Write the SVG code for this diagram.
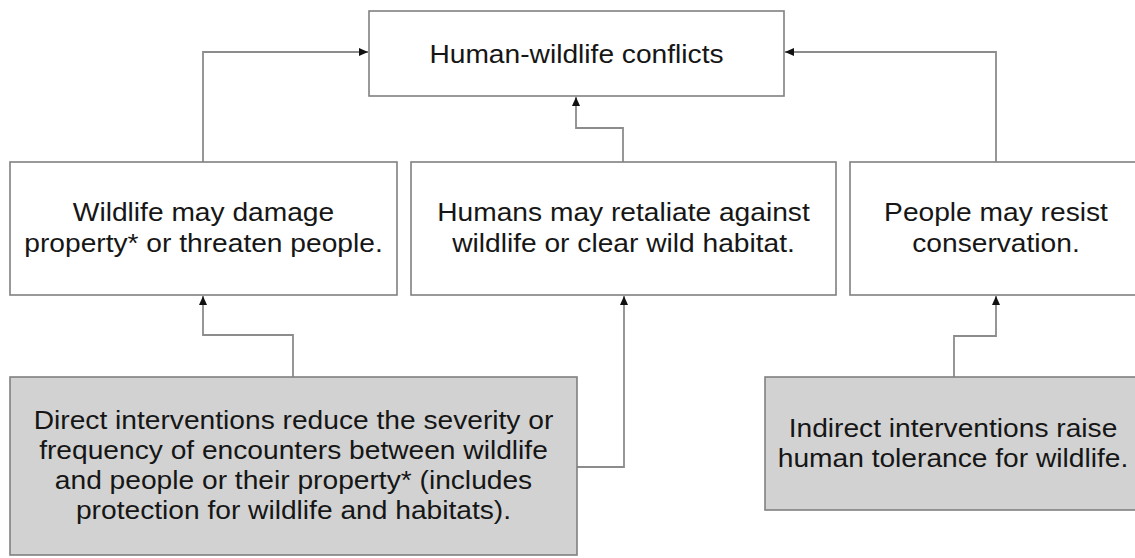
<svg xmlns="http://www.w3.org/2000/svg" width="1135" height="558" viewBox="0 0 1135 558">
<defs>
<style>
.box{fill:#ffffff;stroke:#808080;stroke-width:1.6}
.gbox{fill:#d2d2d2;stroke:#808080;stroke-width:1.6}
.lbl{font-family:"Liberation Sans",Arial,sans-serif;font-size:25.6px;fill:#161616;text-anchor:middle}
.conn{fill:none;stroke:#8c8c8c;stroke-width:1.8}
</style>
<marker id="arr" markerWidth="10" markerHeight="10" refX="9" refY="5" orient="auto" markerUnits="userSpaceOnUse">
<path d="M0,1 L9,5 L0,9 Z" fill="#111111"/>
</marker>
</defs>
<rect width="1135" height="558" fill="#ffffff"/>

<g id="connectors">
<path class="conn" d="M203,162 V52 H368" marker-end="url(#arr)"/>
<path class="conn" d="M623,162 V128 H576 V97" marker-end="url(#arr)"/>
<path class="conn" d="M996,162 V52 H785" marker-end="url(#arr)"/>
<path class="conn" d="M293,377 V335 H203 V296" marker-end="url(#arr)"/>
<path class="conn" d="M577,467 H624 V296" marker-end="url(#arr)"/>
<path class="conn" d="M954,377 V336 H996 V296" marker-end="url(#arr)"/>
</g>

<g id="node-conflicts">
<rect class="box" x="369" y="11" width="415" height="85"/>
<text class="lbl" transform="translate(576.5,63) scale(1.1,1)">Human-wildlife conflicts</text>
</g>

<g id="node-wildlife-damage">
<rect class="box" x="10" y="162" width="387" height="133"/>
<text class="lbl" transform="translate(203.5,221) scale(1.1,1)">Wildlife may damage</text>
<text class="lbl" transform="translate(203.5,252) scale(1.1,1)">property* or threaten people.</text>
</g>

<g id="node-humans-retaliate">
<rect class="box" x="411" y="162" width="425" height="133"/>
<text class="lbl" transform="translate(623.5,221) scale(1.1,1)">Humans may retaliate against</text>
<text class="lbl" transform="translate(623.5,252) scale(1.1,1)">wildlife or clear wild habitat.</text>
</g>

<g id="node-people-resist">
<rect class="box" x="850" y="162" width="295" height="133"/>
<text class="lbl" transform="translate(996,221) scale(1.1,1)">People may resist</text>
<text class="lbl" transform="translate(996,252) scale(1.1,1)">conservation.</text>
</g>

<g id="node-direct">
<rect class="gbox" x="10" y="377" width="567" height="178"/>
<text class="lbl" transform="translate(293.5,429) scale(1.1,1)">Direct interventions reduce the severity or</text>
<text class="lbl" transform="translate(293.5,459) scale(1.1,1)">frequency of encounters between wildlife</text>
<text class="lbl" transform="translate(293.5,489) scale(1.1,1)">and people or their property* (includes</text>
<text class="lbl" transform="translate(293.5,519) scale(1.1,1)">protection for wildlife and habitats).</text>
</g>

<g id="node-indirect">
<rect class="gbox" x="765" y="377" width="380" height="133"/>
<text class="lbl" transform="translate(953,437) scale(1.1,1)">Indirect interventions raise</text>
<text class="lbl" transform="translate(953,467) scale(1.1,1)">human tolerance for wildlife.</text>
</g>
</svg>
